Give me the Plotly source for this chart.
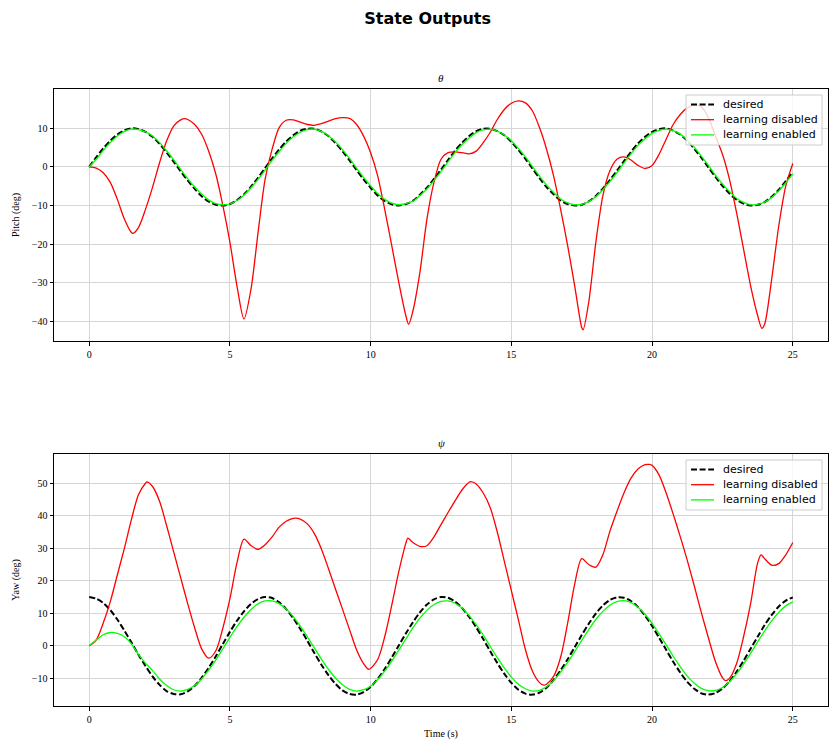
import plotly.graph_objects as go

# ---------------- data ----------------
t = [i * 0.25 for i in range(101)]

pitch_desired = [0.0, 2.5, 4.8, 6.8, 8.4, 9.5, 10.0, 9.8, 9.1, 7.8, 6.0, 3.8, 1.4, -1.1, -3.5, -5.7,
                 -7.6, -9.0, -9.8, -10.0, -9.6, -8.6, -7.1, -5.1, -2.8, -0.3, 2.2, 4.5, 6.6, 8.2, 9.4,
                 9.9, 9.9, 9.2, 8.0, 6.2, 4.1, 1.7, -0.8, -3.2, -5.4, -7.4, -8.8, -9.7, -10.0, -9.6,
                 -8.8, -7.2, -5.4, -3.1, -0.7, 1.8, 4.2, 6.3, 8.0, 9.3, 9.9, 9.9, 9.3, 8.2, 6.5, 4.4,
                 2.1, -0.4, -2.9, -5.2, -7.1, -8.7, -9.6, -10.0, -9.8, -8.9, -7.5, -5.6, -3.4, -1.0,
                 1.5, 3.9, 6.1, 7.8, 9.1, 9.8, 10.0, 9.4, 8.4, 6.8, 4.7, 2.4, -0.1, -2.6, -4.9, -6.9,
                 -8.5, -9.5, -10.0, -9.8, -9.1, -7.7, -5.9, -3.7, -1.3]

pitch_enabled = [0.0, 2.0, 4.3, 6.3, 8.0, 9.2, 9.8, 9.7, 9.1, 8.0, 6.3, 4.2, 1.9, -0.6, -3.0, -5.2,
                 -7.1, -8.6, -9.5, -9.8, -9.6, -8.7, -7.3, -5.4, -3.2, -0.8, 1.7, 4.0, 6.1, 7.8, 9.0,
                 9.7, 9.8, 9.2, 8.1, 6.5, 4.5, 2.2, -0.3, -2.7, -4.9, -6.9, -8.4, -9.4, -9.8, -9.5,
                 -8.9, -7.4, -5.7, -3.5, -1.2, 1.3, 3.7, 5.8, 7.5, 8.9, 9.6, 9.8, 9.3, 8.3, 6.8, 4.8,
                 2.6, 0.1, -2.4, -4.7, -6.6, -8.3, -9.3, -9.8, -9.7, -9.0, -7.7, -5.9, -3.8, -1.5,
                 1.0, 3.4, 5.6, 7.3, 8.7, 9.5, 9.8, 9.4, 8.5, 7.0, 5.1, 2.8, 0.4, -2.1, -4.4, -6.4,
                 -8.1, -9.2, -9.8, -9.7, -9.1, -7.9, -6.2, -4.1, -1.8]

t_pitch_dis = [0.0, 0.25, 0.5, 0.75, 1.0, 1.25, 1.5, 1.55, 1.75, 2.0, 2.25, 2.5, 2.75, 3.0, 3.25, 3.4,
               3.5, 3.75, 4.0, 4.25, 4.5, 4.75, 5.0, 5.25, 5.5, 5.75, 6.0, 6.25, 6.5, 6.75, 7.0,
               7.25, 7.5, 7.75, 8.0, 8.25, 8.5, 8.75, 9.0, 9.25, 9.5, 9.75, 10.0, 10.25, 10.5,
               10.75, 11.0, 11.25, 11.35, 11.5, 11.75, 12.0, 12.25, 12.5, 12.75, 13.0, 13.25, 13.5,
               13.75, 14.0, 14.25, 14.5, 14.75, 15.0, 15.25, 15.5, 15.75, 16.0, 16.25, 16.5, 16.75,
               17.0, 17.25, 17.5, 17.55, 17.75, 18.0, 18.25, 18.5, 18.75, 19.0, 19.25, 19.5, 19.75,
               20.0, 20.25, 20.5, 20.75, 21.0, 21.25, 21.5, 21.75, 22.0, 22.25, 22.5, 22.75, 23.0,
               23.25, 23.5, 23.75, 23.9, 24.0, 24.25, 24.5, 24.75, 25.0]
pitch_disabled = [0.0, -0.3, -1.5, -4.0, -8.4, -13.5, -17.0, -17.2, -15.7, -11.0, -5.3, 1.1, 6.7,
                  10.6, 12.2, 12.5, 12.3, 11.0, 8.4, 4.0, -1.9, -10.0, -19.5, -30.8, -39.4, -31.6,
                  -17.0, -3.2, 4.6, 10.2, 12.1, 12.2, 11.6, 11.0, 10.8, 11.2, 11.9, 12.5, 12.8, 12.6,
                  11.0, 8.0, 3.7, -2.3, -11.0, -20.4, -29.9, -38.5, -40.8, -37.4, -27.3, -13.5, -4.0,
                  2.0, 3.7, 3.9, 3.7, 3.4, 4.1, 6.3, 9.0, 12.3, 14.9, 16.5, 17.1, 16.6, 14.5, 10.2,
                  4.6, -2.3, -11.0, -20.4, -30.8, -41.6, -42.2, -35.0, -19.6, -7.5, -1.0, 2.0, 2.6,
                  1.8, 0.4, -0.4, 0.4, 3.3, 7.2, 11.0, 13.6, 15.3, 16.0, 15.6, 12.8, 8.0, 3.3, -3.2,
                  -11.8, -21.3, -30.8, -38.5, -41.8, -40.7, -29.0, -15.3, -4.9, 0.9]

yaw_desired = [15.0, 14.5, 13.2, 11.0, 8.1, 4.7, 1.1, -2.7, -6.2, -9.4, -12.0, -13.9, -14.8, -14.9,
               -14.0, -12.3, -9.8, -6.7, -3.2, 0.6, 4.3, 7.7, 10.6, 12.9, 14.4, 15.0, 14.7, 13.4,
               11.3, 8.5, 5.2, 1.6, -2.2, -5.8, -9.0, -11.7, -13.7, -14.8, -15.0, -14.2, -12.6,
               -10.2, -7.1, -3.6, 0.1, 3.8, 7.2, 10.3, 12.7, 14.3, 15.0, 14.8, 13.6, 11.6, 8.9, 5.7,
               2.1, -1.7, -5.3, -8.6, -11.4, -13.5, -14.7, -15.0, -14.4, -12.9, -10.5, -7.5, -4.1,
               -0.4, 3.3, 6.8, 9.9, 12.4, 14.1, 14.9, 14.8, 13.8, 11.9, 9.3, 6.1, 2.5, -1.2, -4.9,
               -8.2, -11.1, -13.2, -14.6, -15.0, -14.5, -13.1, -10.9, -8.0, -4.6, -0.9, 2.8, 6.4,
               9.5, 12.1, 13.9, 14.9]

yaw_enabled = [0.0, 1.8, 3.4, 4.1, 3.8, 2.8, 0.6, -2.6, -5.3, -7.6, -10.2, -12.2, -13.5, -13.9,
               -13.4, -12.2, -10.1, -7.4, -4.3, -0.9, 2.6, 5.9, 8.8, 11.2, 12.9, 13.8, 13.8, 13.0,
               11.3, 9.0, 6.1, 2.8, -0.6, -4.1, -7.2, -9.9, -12.0, -13.4, -13.9, -13.5, -12.4,
               -10.4, -7.8, -4.7, -1.3, 2.1, 5.5, 8.5, 10.9, 12.7, 13.7, 13.8, 13.1, 11.6, 9.3, 6.5,
               3.3, -0.2, -3.6, -6.8, -9.6, -11.8, -13.2, -13.9, -13.7, -12.6, -10.7, -8.1, -5.1,
               -1.8, 1.7, 5.0, 8.1, 10.6, 12.5, 13.6, 13.9, 13.3, 11.9, 9.7, 6.9, 3.7, 0.3, -3.2,
               -6.4, -9.3, -11.5, -13.1, -13.8, -13.7, -12.8, -11.0, -8.6, -5.6, -2.3, 1.2, 4.6,
               7.7, 10.3, 12.3, 13.5]

t_yaw_dis = [0.0, 0.25, 0.5, 0.75, 1.0, 1.25, 1.5, 1.75, 2.0, 2.05, 2.25, 2.5, 2.75, 3.0, 3.25,
             3.5, 3.75, 4.0, 4.25, 4.5, 4.75, 5.0, 5.25, 5.5, 5.75, 6.0, 6.25, 6.5, 6.75, 7.0,
             7.25, 7.5, 7.75, 8.0, 8.25, 8.5, 8.75, 9.0, 9.25, 9.5, 9.75, 9.94, 10.25, 10.5,
             10.75, 11.0, 11.25, 11.32, 11.5, 11.75, 12.0, 12.25, 12.5, 12.75, 13.0, 13.25, 13.5,
             13.56, 13.75, 14.0, 14.25, 14.5, 14.75, 15.0, 15.25, 15.5, 15.75, 16.0, 16.15, 16.25,
             16.5, 16.75, 17.0, 17.25, 17.5, 17.75, 18.0, 18.25, 18.5, 18.75, 19.0, 19.25, 19.5,
             19.75, 19.9, 20.0, 20.25, 20.5, 20.75, 21.0, 21.25, 21.5, 21.75, 22.0, 22.25, 22.5,
             22.6, 22.75, 23.0, 23.25, 23.5, 23.75, 23.87, 24.0, 24.25, 24.5, 24.75, 25.0]
yaw_disabled = [0.0, 1.8, 7.0, 13.6, 21.8, 30.0, 38.8, 46.5, 50.0, 50.4, 49.0, 44.5, 37.0, 29.0,
                21.0, 13.0, 5.5, -1.0, -3.8, -1.5, 5.5, 14.5, 25.5, 32.8, 30.8, 29.7, 31.1, 33.5,
                36.5, 38.3, 39.2, 39.0, 37.5, 34.5, 29.8, 23.8, 17.5, 11.3, 5.0, -1.2, -5.5, -7.2,
                -4.2, 2.8, 12.5, 22.8, 31.5, 33.1, 31.8, 30.6, 30.8, 33.5, 37.3, 41.0, 44.6, 48.0,
                50.3, 50.5, 49.8, 47.0, 42.5, 35.0, 26.0, 17.0, 8.0, -1.2, -7.8, -11.3, -12.1, -11.8,
                -9.4, -3.5, 7.0, 19.0, 26.8, 25.0, 24.2, 28.0, 35.2, 41.3, 47.0, 51.6, 54.4,
                55.7, 55.8, 55.5, 52.5, 47.0, 40.5, 33.6, 26.3, 18.4, 10.2, 2.5, -4.8, -9.8,
                -10.7, -10.0, -5.5, 2.8, 13.0, 25.5, 28.0, 26.8, 24.8, 25.3, 28.0, 31.8]

x_ticks = [0, 5, 10, 15, 20, 25]
pitch_ticks = [-40, -30, -20, -10, 0, 10]
yaw_ticks = [-10, 0, 10, 20, 30, 40, 50]
legend_names = ["desired", "learning disabled", "learning enabled"]

assert len(t_pitch_dis) == len(pitch_disabled)
assert len(t_yaw_dis) == len(yaw_disabled)

# ---------------- figure ----------------
SERIF = "Liberation Serif, Times New Roman, serif"
SANS = "DejaVu Sans, sans-serif"
BLACK = "#000000"
RED = "#ff0000"
LIME = "#00ff00"
DASH = "6px,2.6px"

W, H = 837, 751
ML, MR, MT, MB = 54, 9, 89, 45
PW, PH = W - ML - MR, H - MT - MB

fig = go.Figure()


def add_set(xd, yd, xdis, ydis, xen, yen, xa, ya):
    fig.add_trace(go.Scatter(x=xd, y=yd, mode="lines", name=legend_names[0], showlegend=False,
                             line=dict(color=BLACK, width=2, dash=DASH, shape="spline", smoothing=0.8),
                             xaxis=xa, yaxis=ya))
    fig.add_trace(go.Scatter(x=xdis, y=ydis, mode="lines", name=legend_names[1], showlegend=False,
                             line=dict(color=RED, width=1.3, shape="spline", smoothing=0.8),
                             xaxis=xa, yaxis=ya))
    fig.add_trace(go.Scatter(x=xen, y=yen, mode="lines", name=legend_names[2], showlegend=False,
                             line=dict(color=LIME, width=1.3, shape="spline", smoothing=0.8),
                             xaxis=xa, yaxis=ya))


add_set(t, pitch_desired, t_pitch_dis, pitch_disabled, t, pitch_enabled, "x", "y")
add_set(t, yaw_desired, t_yaw_dis, yaw_disabled, t, yaw_enabled, "x2", "y2")


def px(xp):
    return (xp - ML) / PW


def py(yp):
    return (H - MB - yp) / PH


shapes = []
annotations = []
styles = [dict(color=BLACK, width=2, dash=DASH), dict(color=RED, width=1.3), dict(color=LIME, width=1.3)]
for top in (95, 460):
    shapes.append(dict(type="rect", xref="paper", yref="paper", layer="above",
                       x0=px(686), x1=px(822), y0=py(top + 50), y1=py(top),
                       fillcolor="rgba(255,255,255,0.8)", line=dict(color="#cccccc", width=1)))
    for i, (nm, st) in enumerate(zip(legend_names, styles)):
        yy = top + 9.5 + i * 15.2
        shapes.append(dict(type="line", xref="paper", yref="paper", layer="above",
                           x0=px(691), x1=px(714), y0=py(yy), y1=py(yy), line=st))
        annotations.append(dict(text=nm, xref="paper", yref="paper", x=px(721), y=py(yy),
                                xanchor="left", yanchor="middle", showarrow=False,
                                font=dict(family=SANS, size=11, color=BLACK)))

annotations += [
    dict(text="<i>θ</i>", xref="paper", yref="paper", x=0.5, y=py(78), xanchor="center",
         yanchor="middle", showarrow=False, font=dict(family=SERIF, size=11, color=BLACK)),
    dict(text="<i>ψ</i>", xref="paper", yref="paper", x=0.5, y=py(443), xanchor="center",
         yanchor="middle", showarrow=False, font=dict(family=SERIF, size=11, color=BLACK)),
]

axis_common = dict(showline=True, linecolor=BLACK, linewidth=1, mirror=True,
                   ticks="outside", ticklen=3.5, tickwidth=0.8, tickcolor=BLACK,
                   showgrid=True, gridcolor="#d6d6d6", gridwidth=1, zeroline=False,
                   tickfont=dict(family=SERIF, size=10, color=BLACK))

fig.update_layout(
    width=W, height=H,
    margin=dict(l=ML, r=MR, t=MT, b=MB),
    paper_bgcolor="white", plot_bgcolor="white",
    showlegend=False,
    title=dict(text="<b>State Outputs</b>", x=0.511, xanchor="center", xref="container",
               y=0.976, yanchor="middle", yref="container",
               font=dict(family="DejaVu Sans, sans-serif", size=16, color=BLACK)),
    xaxis=dict(domain=[0, 1], anchor="y", range=[-1.25, 26.25], tickvals=x_ticks, **axis_common),
    yaxis=dict(domain=[py(341), 1.0], anchor="x", range=[-45.1, 20.2], tickvals=pitch_ticks,
               title=dict(text="Pitch (deg)", font=dict(family=SERIF, size=10, color=BLACK), standoff=10),
               **axis_common),
    xaxis2=dict(domain=[0, 1], anchor="y2", range=[-1.25, 26.25], tickvals=x_ticks,
                title=dict(text="Time (s)", font=dict(family=SERIF, size=10, color=BLACK), standoff=6),
                **axis_common),
    yaxis2=dict(domain=[0.0, py(454)], anchor="x2", range=[-18.5, 59.0], tickvals=yaw_ticks,
                title=dict(text="Yaw (deg)", font=dict(family=SERIF, size=10, color=BLACK), standoff=10),
                **axis_common),
    shapes=shapes,
    annotations=annotations,
)

fig.write_html("out.html")
